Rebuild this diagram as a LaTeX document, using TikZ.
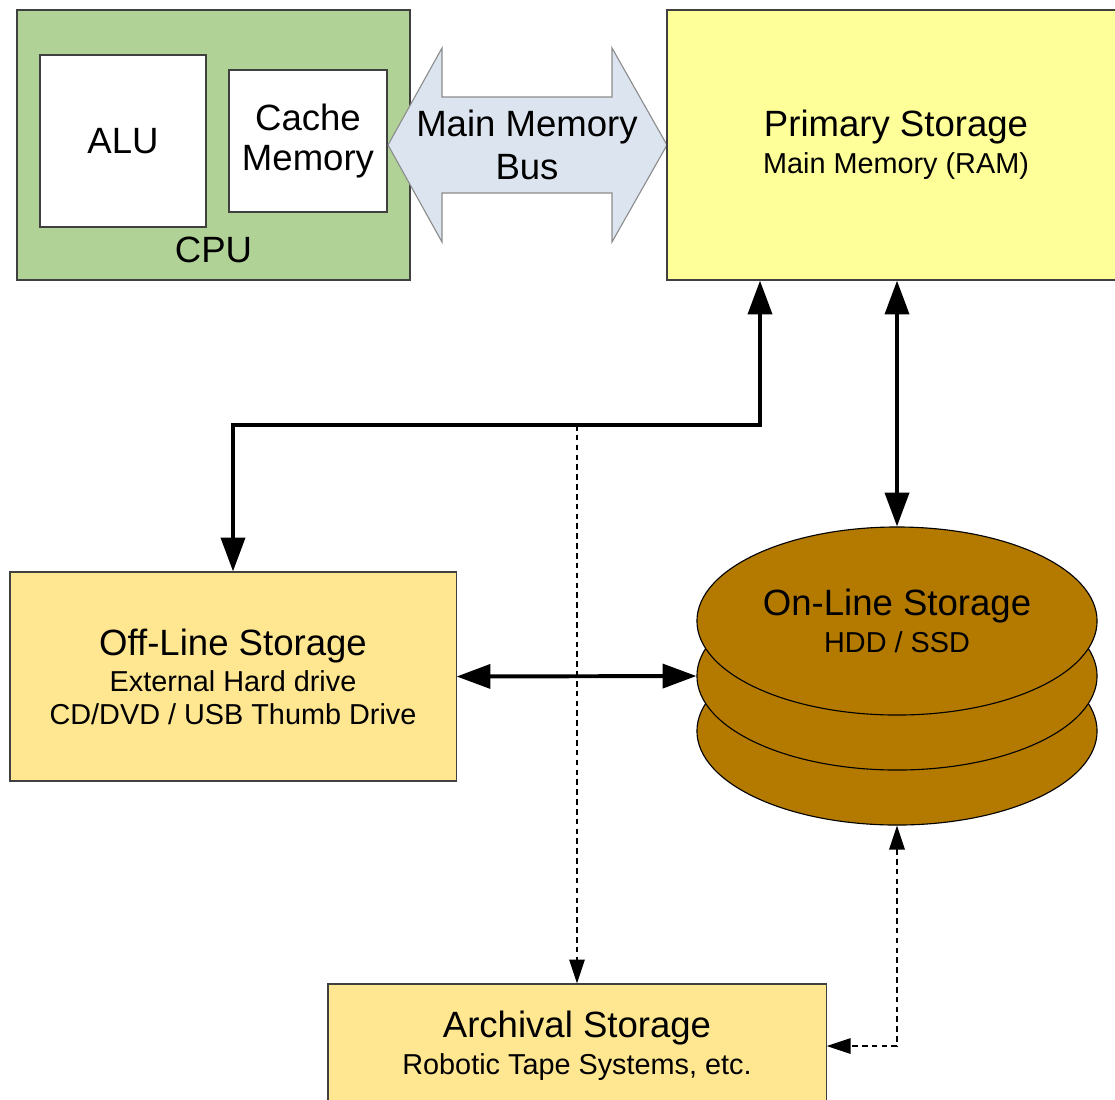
\documentclass[tikz,border=0pt]{standalone}
\usepackage{fontspec}
\setmainfont{Liberation Sans}
\usetikzlibrary{shapes.geometric,arrows.meta,positioning}
\definecolor{cpugreen}{HTML}{B0D296}
\definecolor{busblue}{HTML}{DCE5EF}
\definecolor{ramyellow}{HTML}{FFFF99}
\definecolor{storegold}{HTML}{FFE690}
\definecolor{diskbrown}{HTML}{B47A00}
\newcommand{\bigtxt}{\fontsize{26}{29}\selectfont}
\newcommand{\smalltxt}{\fontsize{20.5}{23}\selectfont}

\begin{document}
\begin{tikzpicture}[x=0.025cm,y=-0.025cm,
  box/.style={draw=black!75,line width=0.8pt,rectangle,align=center,inner sep=0pt,font=\smalltxt},
  disk/.style={draw=black,line width=0.8pt,ellipse,fill=diskbrown,minimum width=10cm,minimum height=4.7cm,inner sep=0pt,align=center,font=\smalltxt},
  bigarrow/.style={line width=2.8pt,{Triangle[length=24pt,width=17pt]}-{Triangle[length=24pt,width=17pt]}},
  dasharrow/.style={line width=1.1pt,dash pattern=on 4pt off 3pt,-{Triangle[length=17pt,width=11pt]}}]
 \useasboundingbox (0,0) rectangle (1115,1099);

 % processor side
 \node[box,fill=cpugreen,minimum width=9.825cm,minimum height=6.75cm,
   label={[anchor=base,yshift=13pt,font=\bigtxt]south:CPU}] (cpu) at (213.5,145) {};
 \node[box,fill=white,minimum width=4.15cm,minimum height=4.3cm,font=\bigtxt] (alu) at (123,141) {ALU};
 \node[box,fill=white,minimum width=3.95cm,minimum height=3.55cm,font=\bigtxt] (cache) at (308,141) {Cache\\Memory};

 \filldraw[fill=busblue,draw=black!45,line width=0.8pt] (388,145) -- (442,48) -- (442,97) -- (612,97)
   -- (612,48) -- (667,145) -- (612,242) -- (612,193) -- (442,193) -- (442,242) -- cycle;
 \node[align=center,font=\bigtxt,inner sep=0pt] (bus) at (527,145) {Main Memory\\[1pt]Bus};

 \node[box,fill=ramyellow,minimum width=11.45cm,minimum height=6.75cm] (primary) at (896,145)
   {{\bigtxt Primary Storage}\\[3pt]Main Memory (RAM)};

 % storage levels
 \node[box,fill=storegold,minimum width=11.15cm,minimum height=5.225cm] (offline) at (233,676.5)
   {{\bigtxt Off-Line Storage}\\[3pt]External Hard drive\\CD/DVD / USB Thumb Drive};
 \node[box,fill=storegold,minimum width=12.45cm,minimum height=3.1cm] (archival) at (577,1046)
   {{\bigtxt Archival Storage}\\[3pt]Robotic Tape Systems, etc.};

 \node[disk] (disk3) at (897,731) {};
 \node[disk] (disk2) at (897,676) {};
 \node[disk] (disk1) at (897,621) {{\bigtxt On-Line Storage}\\[3pt]HDD / SSD};

 \coordinate (tap) at (760,425);

 % arrows
 \draw[bigarrow] (offline.north) |- (tap) -- (tap |- primary.south);
 \draw[bigarrow] (disk1.north |- primary.south) -- (disk1.north);
 \draw[bigarrow] (offline.east) -- (disk2.west);
 \draw[dasharrow] (archival.north |- tap) -- (archival.north);
 \draw[dasharrow,{Triangle[length=17pt,width=11pt]}-{Triangle[length=17pt,width=11pt]}] (disk3.south) |- (archival.east);
\end{tikzpicture}
\end{document}
